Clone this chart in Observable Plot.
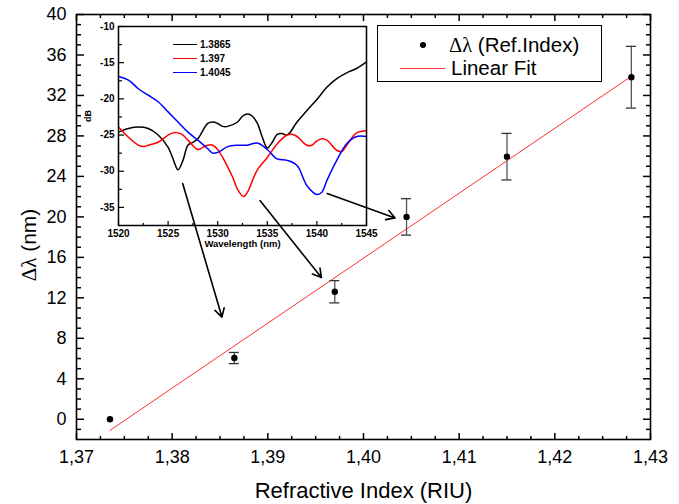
<!DOCTYPE html>
<html><head><meta charset="utf-8">
<script src="https://cdn.jsdelivr.net/npm/d3@7"></script>
<script src="https://cdn.jsdelivr.net/npm/@observablehq/plot@0.6"></script>
<style>
body{margin:0;background:#fff;}
#wrap{position:relative;width:679px;height:504px;font-family:Arial,"Liberation Sans",sans-serif;color:#000;}
.abs{position:absolute;}
</style></head><body><div id="wrap"></div>
<script>
// ---- main data ----
const refIndex = [1.3735, 1.3865, 1.397, 1.4045, 1.415, 1.428];
const deltaLambda = [0, 6.05, 12.6, 20.0, 25.95, 33.8];
const errBar = [0, 0.55, 1.1, 1.8, 2.3, 3.05];
const xMajor = [1.37, 1.38, 1.39, 1.40, 1.41, 1.42, 1.43];
const yMajor = [0, 4, 8, 12, 16, 20, 24, 28, 32, 36, 40];
// arrows (from inset dips to data points)
const arrowX1 = [1.3811, 1.3892, 1.3962];
const arrowY1 = [23.3, 21.6, 22.3];
const arrowX2 = [1.3852, 1.3956, 1.4033];
const arrowY2 = [10.1, 14.0, 19.9];
// ---- inset data ----
const wlBlack = [1520,1521,1522,1523,1524,1525,1525.5,1526,1526.5,1527,1527.5,1528,1529,1529.5,1530,1530.5,1531,1532,1532.5,1533,1533.5,1534,1534.5,1535,1535.5,1536,1536.5,1537,1538,1539,1540,1541,1542,1543,1544,1545];
const dbBlack = [-24.6,-24.1,-23.9,-24.1,-25.0,-26.7,-28.3,-29.8,-28.5,-26.4,-26.0,-25.5,-23.4,-23.2,-23.4,-23.8,-23.8,-23.2,-22.4,-22.1,-22.4,-23.4,-25.3,-26.8,-26.0,-24.9,-24.8,-25.0,-23.2,-21.6,-20.1,-18.4,-17.2,-16.4,-15.8,-14.9];
const wlRed = [1520,1521,1522,1522.5,1523,1524,1525,1525.5,1526,1526.5,1527,1528,1528.5,1529,1529.5,1530,1530.5,1531,1531.5,1532,1532.6,1533,1533.5,1534,1535,1536,1537,1537.5,1538,1539,1539.5,1540,1540.5,1541,1542,1542.5,1543,1544,1545];
const dbRed = [-23.9,-25.3,-26.4,-26.6,-26.4,-26.0,-25.0,-24.7,-24.7,-25.0,-25.7,-27.0,-26.7,-26.4,-26.4,-27.0,-28.1,-29.4,-30.8,-32.5,-33.5,-32.9,-31.3,-29.8,-28.1,-26.2,-25.0,-24.9,-25.2,-26.4,-26.4,-25.8,-25.5,-25.7,-27.1,-27.3,-26.4,-24.7,-24.4];
const wlBlue = [1520,1521,1522,1523,1524,1525,1526,1527,1528,1529,1529.5,1530,1531,1532,1533,1534,1535,1536,1537,1538,1539,1540,1540.5,1541,1542,1543,1544,1545];
const dbBlue = [-16.9,-17.4,-18.6,-19.5,-20.4,-21.8,-23.2,-24.6,-25.7,-26.9,-27.5,-27.4,-26.6,-26.4,-26.4,-26.1,-27.0,-28.3,-28.5,-29.2,-32.0,-33.2,-32.9,-31.3,-28.5,-26.2,-25.2,-25.2];
const seriesNames = ["1.3865", "1.397", "1.4045"];
const seriesColors = ["#000000", "#ff0000", "#0000ff"];
const wlTicks = [1520, 1525, 1530, 1535, 1540, 1545];
const dbTicks = [-10, -15, -20, -25, -30, -35];

const FONT = "Arial, 'Liberation Sans', sans-serif";
const wrap = document.getElementById("wrap");
const blank = () => "";

// inward tick marks: axis marks with the opposite anchor, shifted across the frame
function inwardTicks(fw, fh, xMaj, xMin, yMaj, yMin, lenMaj, lenMin, sides, sw) {
  const marks = [];
  const st = {stroke: "#000", strokeWidth: sw, tickFormat: blank, label: null, tickPadding: 0};
  for (const [vals, len] of [[xMaj, lenMaj], [xMin, lenMin]]) {
    if (sides.includes("bottom")) marks.push(Plot.axisX({anchor: "top", ticks: vals, tickSize: len, dy: fh, ...st}));
    if (sides.includes("top")) marks.push(Plot.axisX({anchor: "bottom", ticks: vals, tickSize: len, dy: -fh, ...st}));
  }
  for (const [vals, len] of [[yMaj, lenMaj], [yMin, lenMin]]) {
    if (sides.includes("left")) marks.push(Plot.axisY({anchor: "right", ticks: vals, tickSize: len, dx: -fw, ...st}));
    if (sides.includes("right")) marks.push(Plot.axisY({anchor: "left", ticks: vals, tickSize: len, dx: fw, ...st}));
  }
  return marks;
}

// ---------- main plot ----------
const W = 679, H = 504, mT = 14, mR = 29, mB = 65, mL = 76;
const fw = W - mL - mR, fh = H - mT - mB;
const xDom = [1.37, 1.43], yDom = [-2, 40];
const pts = refIndex.map((x, i) => ({x, y: deltaLambda[i], e: errBar[i]}));
const errPts = pts.filter(d => d.e > 0);
const arrows = arrowX1.map((x1, i) => ({x1, y1: arrowY1[i], x2: arrowX2[i], y2: arrowY2[i]}));
const xMinor = d3.range(1, 24).map(i => 1.37 + i * 0.0025).filter(v => !xMajor.some(m => Math.abs(m - v) < 1e-9));
const yMinor = d3.range(-1, 40).filter(v => !yMajor.includes(v));

const main = Plot.plot({
  width: W, height: H, marginTop: mT, marginRight: mR, marginBottom: mB, marginLeft: mL,
  x: {domain: xDom},
  y: {domain: yDom},
  style: {fontFamily: FONT, color: "black", background: "transparent", overflow: "visible"},
  marks: [
    Plot.axisX({ticks: xMajor, tickSize: 0, tickPadding: 11, fontSize: 18, label: null,
      tickFormat: d => d.toFixed(2).replace(".", ",")}),
    Plot.axisY({ticks: yMajor, tickSize: 0, tickPadding: 10, fontSize: 18, label: null,
      tickFormat: d => String(d)}),
    Plot.text(["Refractive Index (RIU)"], {frameAnchor: "bottom", dy: 51, fontSize: 22,
      textAnchor: "middle", lineAnchor: "middle"}),
    Plot.text(["YLABEL"], {frameAnchor: "left", rotate: -90, dx: -47, dy: 18, fontSize: 21,
      textAnchor: "middle", lineAnchor: "middle"}),
    Plot.linearRegressionY(pts, {x: "x", y: "y", stroke: "#ff3030", strokeWidth: 1, ci: 0}),
    Plot.ruleX(errPts, {x: "x", y1: d => d.y - d.e, y2: d => d.y + d.e, stroke: "#555", strokeWidth: 1.3}),
    Plot.ruleY(errPts, {y: d => d.y + d.e, x1: "x", x2: "x", insetLeft: -5, insetRight: -5, stroke: "#333", strokeWidth: 1.3}),
    Plot.ruleY(errPts, {y: d => d.y - d.e, x1: "x", x2: "x", insetLeft: -5, insetRight: -5, stroke: "#333", strokeWidth: 1.3}),
    Plot.dot(pts, {x: "x", y: "y", r: 3.2, fill: "black"}),
    Plot.arrow(arrows, {x1: "x1", y1: "y1", x2: "x2", y2: "y2", stroke: "black", strokeWidth: 1.6, headLength: 9}),
    Plot.frame({stroke: "black", strokeWidth: 1.6}),
    ...inwardTicks(fw, fh, xMajor, xMinor, yMajor, yMinor, 7, 4, ["bottom", "top", "left", "right"], 1.5)
  ]
});
main.classList.add("abs");
main.style.left = "0px"; main.style.top = "0px";
// mixed-font y label: serif Δλ
main.querySelectorAll("text").forEach(t => {
  if (t.textContent === "YLABEL") {
    t.textContent = "";
    const ns = "http://www.w3.org/2000/svg";
    const a = document.createElementNS(ns, "tspan");
    a.setAttribute("font-family", "'Liberation Serif', 'Times New Roman', serif");
    a.textContent = "Δλ";
    const b = document.createElementNS(ns, "tspan");
    b.textContent = " (nm)";
    t.appendChild(a); t.appendChild(b);
  }
});
wrap.appendChild(main);

// ---------- inset ----------
const iW = 290, iH = 230, iT = 6, iR = 9, iB = 25, iL = 33;
const ifw = iW - iL - iR, ifh = iH - iT - iB;
const ixDom = [1520, 1545], iyDom = [-37.5, -10];
const spectra = [
  {wl: wlBlack, db: dbBlack},
  {wl: wlRed, db: dbRed},
  {wl: wlBlue, db: dbBlue}
].flatMap((s, k) => s.wl.map((w, i) => ({wl: w, db: s.db[i], name: seriesNames[k]})));
const wlMinor = d3.range(1, 10).map(i => 1520 + i * 2.5).filter(v => !wlTicks.includes(v));
const dbMinor = d3.range(1, 11).map(i => -10 - i * 2.5).filter(v => !dbTicks.includes(v) && v > -37.5);

const inset = Plot.plot({
  width: iW, height: iH, marginTop: iT, marginRight: iR, marginBottom: iB, marginLeft: iL,
  x: {domain: ixDom},
  y: {domain: iyDom},
  color: {domain: seriesNames, range: seriesColors},
  style: {fontFamily: FONT, color: "black", background: "transparent", overflow: "visible"},
  marks: [
    Plot.axisX({ticks: wlTicks, tickSize: 0, tickPadding: 4, fontSize: 10, fontWeight: "bold", label: null, tickFormat: d => String(d)}),
    Plot.axisY({ticks: dbTicks, tickSize: 0, tickPadding: 4, fontSize: 10, fontWeight: "bold", label: null, tickFormat: d => String(d)}),
    Plot.line(spectra, {x: "wl", y: "db", z: "name", stroke: "name", strokeWidth: 1.5, curve: "catmull-rom"}),
    Plot.text(["Wavelength (nm)"], {frameAnchor: "bottom", dy: 18, fontSize: 9.5, fontWeight: "bold", textAnchor: "middle", lineAnchor: "middle"}),
    Plot.text(["dB"], {frameAnchor: "left", rotate: -90, dx: -30, dy: -10, fontSize: 9, fontWeight: "bold", textAnchor: "middle", lineAnchor: "middle"}),
    Plot.frame({stroke: "black", strokeWidth: 1.5}),
    ...inwardTicks(ifw, ifh, wlTicks, wlMinor, dbTicks, dbMinor, 5, 3, ["bottom", "left"], 1.2)
  ]
});
const insetBox = document.createElement("div");
insetBox.className = "abs";
insetBox.style.left = "85px"; insetBox.style.top = "20px";
insetBox.style.width = iW + "px"; insetBox.style.height = iH + "px";
inset.classList.add("abs");
inset.style.left = "0px"; inset.style.top = "0px";
insetBox.appendChild(inset);
// inset legend
seriesNames.forEach((n, k) => {
  const row = document.createElement("div");
  row.className = "abs";
  row.style.left = "88px"; row.style.top = (18 + k * 14.3) + "px";
  row.style.height = "12px"; row.style.display = "flex"; row.style.alignItems = "center";
  row.style.fontSize = "10px"; row.style.fontWeight = "bold"; row.style.whiteSpace = "nowrap";
  row.innerHTML = `<span style="display:inline-block;width:24px;height:0;border-top:1.5px solid ${seriesColors[k]};margin-right:3px"></span>${n}`;
  insetBox.appendChild(row);
});
wrap.appendChild(insetBox);

// ---------- main legend ----------
const leg = document.createElement("div");
leg.className = "abs";
Object.assign(leg.style, {left: "377px", top: "25px", width: "225px", height: "57px",
  boxSizing: "border-box", border: "1.5px solid black", background: "white", fontSize: "20.5px"});
leg.innerHTML = `
 <div class="abs" style="left:0;top:6px;height:26px;display:flex;align-items:center;white-space:nowrap">
   <span style="display:inline-block;width:42px"></span>
   <span style="display:inline-block;width:6px;height:6px;border-radius:50%;background:#000"></span>
   <span style="display:inline-block;width:23px"></span>
   <span style="font-family:'Liberation Serif','Times New Roman',serif">Δλ</span>&nbsp;(Ref.Index)
 </div>
 <div class="abs" style="left:0;top:29px;height:26px;display:flex;align-items:center;white-space:nowrap">
   <span style="display:inline-block;width:22px"></span>
   <span style="display:inline-block;width:45px;height:0;border-top:1px solid #ff3030"></span>
   <span style="display:inline-block;width:6px"></span>Linear Fit
 </div>`;
wrap.appendChild(leg);
</script></body></html>
